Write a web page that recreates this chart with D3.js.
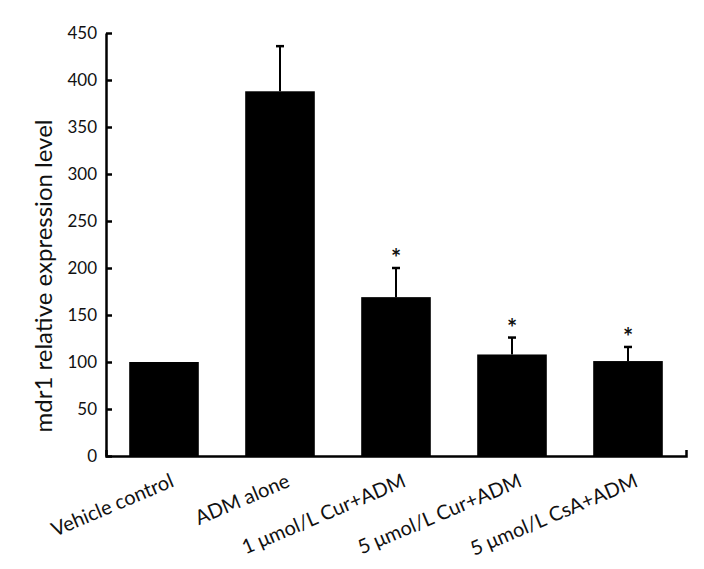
<!DOCTYPE html>
<html>
<head>
<meta charset="utf-8">
<title>mdr1 expression</title>
<style>
  body { margin: 0; background: #fff; }
  text { font-family: Lato, "Open Sans", sans-serif; fill: #111; }
</style>
</head>
<body>
<script src="https://cdn.jsdelivr.net/npm/d3@7"></script>
<script>
// data
const groups = ["Vehicle control", "ADM alone", "1 \u03bcmol/L Cur+ADM", "5 \u03bcmol/L Cur+ADM", "5 \u03bcmol/L CsA+ADM"];
const means = [100, 388, 169, 108, 101];
const errors = [0, 48, 31, 18, 15];
const starred = [false, false, true, true, true];
const yTicks = [0, 50, 100, 150, 200, 250, 300, 350, 400, 450];

const width = 704, height = 569;
const margin = { top: 33, right: 18, bottom: 113, left: 106 };

const svg = d3.select("body").append("svg")
  .attr("width", width)
  .attr("height", height);

const x = d3.scaleBand()
  .domain(groups)
  .range([margin.left, width - margin.right])
  .paddingInner(0.4)
  .paddingOuter(0.2);

const y = d3.scaleLinear()
  .domain([0, 450])
  .range([height - margin.bottom, margin.top]);

// bars
svg.append("g")
  .selectAll("rect")
  .data(groups)
  .join("rect")
  .attr("x", d => x(d))
  .attr("y", (d, i) => y(means[i]))
  .attr("width", x.bandwidth())
  .attr("height", (d, i) => y(0) - y(means[i]))
  .attr("fill", "#000");

// error bars (upper only)
const eb = svg.append("g")
  .attr("stroke", "#000")
  .attr("stroke-width", 2);

groups.forEach((g, i) => {
  if (!errors[i]) return;
  const cx = x(g) + x.bandwidth() / 2;
  const top = y(means[i] + errors[i]);
  eb.append("line")
    .attr("x1", cx).attr("x2", cx)
    .attr("y1", y(means[i])).attr("y2", top);
  eb.append("line")
    .attr("x1", cx - 4).attr("x2", cx + 4)
    .attr("y1", top).attr("y2", top)
    .attr("stroke-width", 2.5);
  if (starred[i]) {
    svg.append("text")
      .attr("x", cx)
      .attr("y", top - 1)
      .attr("text-anchor", "middle")
      .attr("font-size", 24)
      .attr("font-weight", "bold")
      .text("*");
  }
});

// y axis
const yAxis = svg.append("g")
  .attr("transform", `translate(${margin.left},0)`)
  .call(d3.axisLeft(y).tickValues(yTicks).tickSize(-6).tickSizeOuter(0).tickPadding(9));
yAxis.select(".domain").attr("stroke-width", 2.5);
yAxis.selectAll(".tick line").attr("stroke-width", 2.5);
yAxis.selectAll(".tick text")
  .attr("font-size", 17)
  .attr("font-family", "Lato, sans-serif")
  .attr("fill", "#111");

// x axis
const xAxis = svg.append("g")
  .attr("transform", `translate(0,${y(0)})`)
  .call(d3.axisBottom(x).tickSize(0).tickSizeOuter(-6).tickPadding(0));
xAxis.select(".domain").attr("stroke-width", 2.5);
xAxis.selectAll(".tick text")
  .attr("font-size", 20)
  .attr("font-family", "Lato, sans-serif")
  .attr("fill", "#111")
  .attr("text-anchor", "end")
  .attr("dy", 0)
  .attr("transform", "translate(11,30) rotate(-23)");

// y axis title
svg.append("text")
  .attr("transform", "translate(52,276) rotate(-90)")
  .attr("text-anchor", "middle")
  .attr("font-size", 24)
  .text("mdr1 relative expression level");
</script>
</body>
</html>
